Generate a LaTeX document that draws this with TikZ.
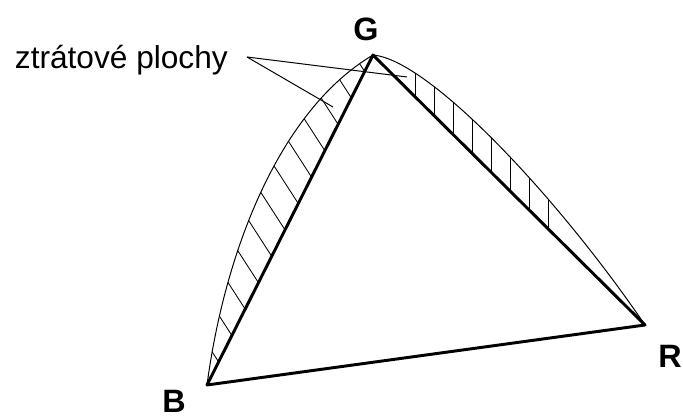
\documentclass[tikz,border=0pt]{standalone}
\usepackage{fontspec}
\setmainfont{Liberation Sans}
\usepackage{tikz}
\usetikzlibrary{
	calc,
	positioning
}

\begin{document}
\begin{tikzpicture}[x=0.25mm, y=-0.25mm,
		side/.style={line width=2.1pt, line join=round, line cap=round},
		loss/.style={line width=0.7pt},
		hatch/.style={line width=0.6pt},
		vertex/.style={font=\bfseries\fontsize{23}{25}\selectfont, inner sep=0pt}]
		\useasboundingbox (0,0) rectangle (683,418);
		\coordinate (G) at (373,55);
		\coordinate (B) at (207,385);
		\coordinate (R) at (645,325);
		% hatched loss areas
		\begin{scope}
			\clip (B) .. controls (225,250) and (280,110) .. (G) -- cycle;
			\foreach \t in {0.07,0.15,...,0.95}
				\draw[hatch] ($(B)!\t!(G)$) -- ++(-80,-124);
		\end{scope}
		\begin{scope}
			\clip (G) .. controls (430,60) and (560,200) .. (R) -- cycle;
			\foreach \x in {415,434,...,560}
				\draw[hatch] (\x,0) -- (\x,400);
		\end{scope}
		\draw[loss] (B) .. controls (225,250) and (280,110) .. (G);
		\draw[loss] (G) .. controls (430,60) and (560,200) .. (R);
		\draw[side] (B)--(G)--(R)--cycle;
		% labels
		\node[vertex] (labG) at (366,29) {G};
		\node[vertex] (labB) at (174,401) {B};
		\node[vertex] (labR) at (670,356) {R};
		\node[anchor=east, inner sep=0pt, font=\fontsize{22.5}{24}\selectfont] (lbl) at (228,60) {ztrátové plochy};
		\coordinate (tip) at (247,57);
		\coordinate (aimR) at (407,77);
		\coordinate (aimL) at (333,107);
		\draw[loss] (tip)--(aimR);
		\draw[loss] (tip)--(aimL);
	\end{tikzpicture}
\end{document}
